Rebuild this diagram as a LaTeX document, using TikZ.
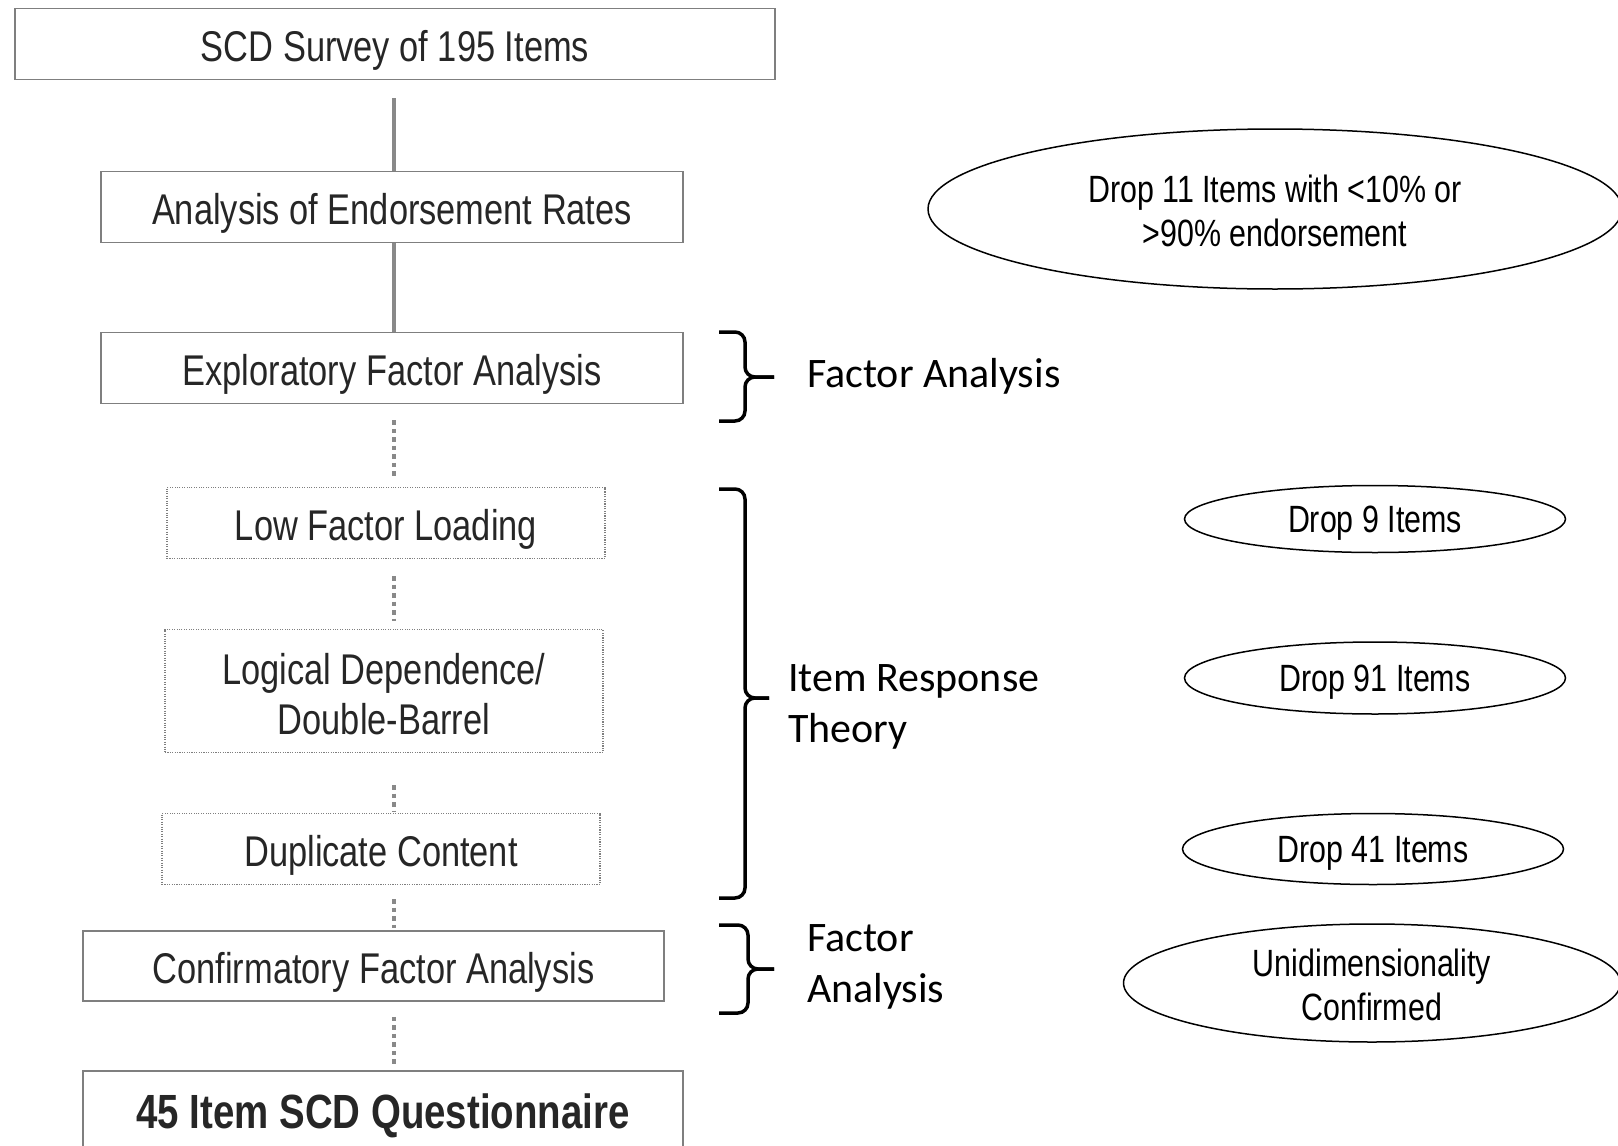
\documentclass[tikz,border=0pt]{standalone}
\usepackage{fontspec}
\newfontfamily\narrowsf[FakeStretch=0.8]{Liberation Sans}
\newfontfamily\calibsf{Carlito}
\usepackage{tikz}
\usetikzlibrary{shapes.geometric}
\definecolor{BoxGray}{RGB}{127, 127, 127}
\definecolor{LinkGray}{RGB}{137, 137, 137}
\definecolor{TextDark}{RGB}{38, 38, 38}
\begin{document}
\begin{tikzpicture}[x=1pt, y=-1pt, bx/.style={draw=BoxGray, line width=1.5pt, minimum height=71pt, inner sep=0pt, align=center, text=TextDark, text height=35pt, text depth=0pt, font=\narrowsf\fontsize{43}{50}\selectfont}, dbx/.style={bx, line width=1.1pt, dash pattern=on 1.1pt off 1.3pt}, ov/.style={ellipse, draw=black, line width=1.5pt, inner sep=0pt, align=center, text height=27pt, text depth=0pt, font=\narrowsf\fontsize{38}{44}\selectfont}, ovii/.style={ov, text height=75.2pt}, lbl/.style={anchor=west, align=left, inner sep=0pt, font=\calibsf\fontsize{42}{51}\selectfont}, sl/.style={draw=LinkGray, line width=3.5pt}, dl/.style={draw=LinkGray, line width=4.5pt, dash pattern=on 4.5pt off 4pt}, brc/.style={draw=black, line width=3.5pt, rounded corners=10pt}]
\useasboundingbox (0,0) rectangle (1618,1146);
\coordinate (spine) at (394,0);
% flow of steps
\node[bx, minimum width=760pt] (survey) at (395,44) {SCD Survey of 195 Items};
\node[bx, minimum width=582pt] (endorse) at (392,207) {Analysis of Endorsement Rates};
\node[bx, minimum width=582pt] (efa) at (392,368) {Exploratory Factor Analysis};
\node[dbx, minimum width=438pt] (lowload) at (386,523) {Low Factor Loading};
\node[dbx, minimum width=438pt, minimum height=123pt, text height=87pt] (logdep) at (384,691) {Logical Dependence/\\Double-Barrel};
\node[dbx, minimum width=438pt] (dupl) at (381,849) {Duplicate Content};
\node[bx, minimum width=581pt, minimum height=70pt] (cfa) at (373.5,966) {Confirmatory Factor Analysis};
\node[bx, minimum width=600pt, minimum height=78pt, text height=37pt, font=\narrowsf\bfseries\fontsize{48}{56}\selectfont] (final) at (383,1110) {45 Item SCD Questionnaire};
\draw[sl, shorten <=18pt] (survey.south -| spine) -- (endorse.north -| spine);
\draw[sl] (endorse.south -| spine) -- (efa.north -| spine);
\draw[dl, shorten <=16pt, shorten >=9pt] (efa.south -| spine) -- (lowload.north -| spine);
\draw[dl, shorten <=17pt, shorten >=8pt] (lowload.south -| spine) -- (logdep.north -| spine);
\draw[dl, shorten <=32pt, shorten >=2pt] (logdep.south -| spine) -- (dupl.north -| spine);
\draw[dl, shorten <=14pt, shorten >=2pt] (dupl.south -| spine) -- (cfa.north -| spine);
\draw[dl, shorten <=15pt, shorten >=6pt] (cfa.south -| spine) -- (final.north -| spine);
% braces and method labels
\foreach \yt/\ym/\yb/\xb/\xt in {332/377/421/745/774, 489/698/898/745/769, 925/969/1013/748/774} {
  \draw[brc] (719,\yt) -- (\xb,\yt) -- (\xb,\ym) -- (\xt,\ym);
  \draw[brc] (\xt,\ym) -- (\xb,\ym) -- (\xb,\yb) -- (719,\yb);
}
\node[lbl] (faA) at (807,376) {Factor Analysis};
\node[lbl] (irt) at (788,707) {Item Response\\Theory};
\node[lbl] (faB) at (807,967) {Factor\\Analysis};
% outcomes
\node[ovii, minimum width=694pt, minimum height=160pt] (drop11) at (1275,209) {Drop 11 Items with <10\% or\\>90\% endorsement};
\node[ov, minimum width=381pt, minimum height=67pt] (drop9) at (1375,519) {Drop 9 Items};
\node[ov, minimum width=381pt, minimum height=72pt] (drop91) at (1375,678) {Drop 91 Items};
\node[ov, minimum width=381pt, minimum height=71pt] (drop41) at (1373,849) {Drop 41 Items};
\node[ovii, minimum width=497pt, minimum height=118pt] (unidim) at (1372,983) {Unidimensionality\\Confirmed};
\end{tikzpicture}
\end{document}
